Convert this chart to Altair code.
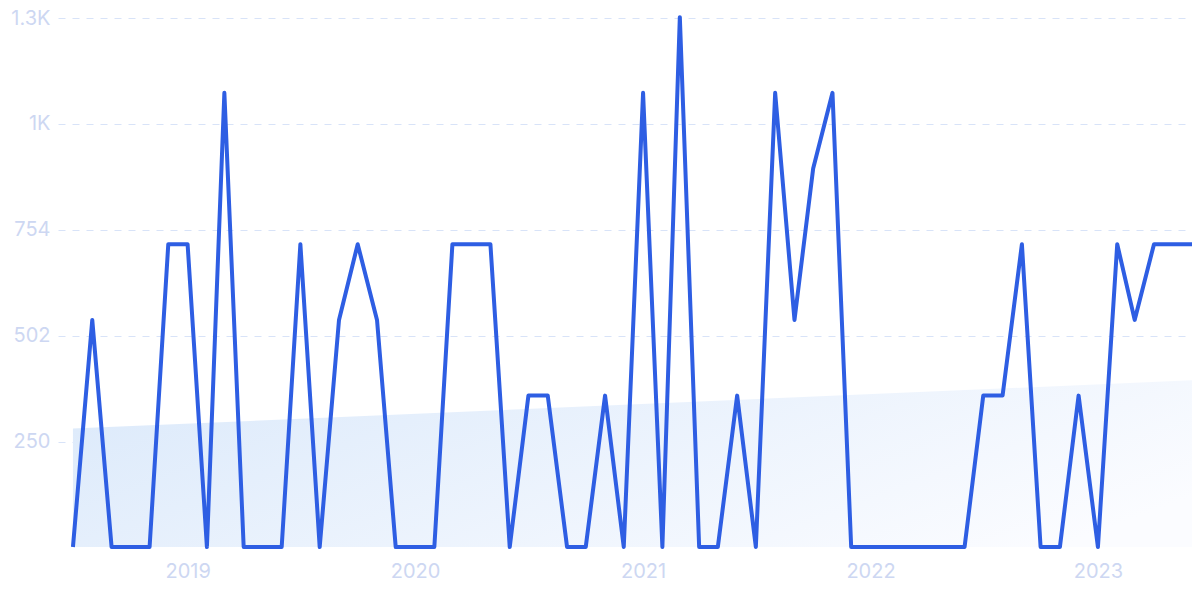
import altair as alt
import pandas as pd

months = pd.date_range("2018-07-01", "2023-06-01", freq="MS").strftime("%Y-%m-%d").tolist()
values = [0, 540, 0, 0, 0, 720, 720, 0, 1080, 0, 0, 0,
          720, 0, 540, 720, 540, 0, 0, 0, 720, 720, 720, 0,
          360, 360, 0, 0, 360, 0, 1080, 0, 1260, 0, 0, 360,
          0, 1080, 540, 900, 1080, 0, 0, 0, 0, 0, 0, 0,
          360, 360, 720, 0, 0, 360, 0, 720, 540, 720, 720, 720]
y_ticks = [250, 502, 754, 1006, 1258]
year_ticks = ["2019-01-01", "2020-01-01", "2021-01-01", "2022-01-01", "2023-01-01"]

df = pd.DataFrame({"date": months, "value": values, "idx": list(range(len(values)))})


def utc_ms(s):
    return int(pd.Timestamp(s, tz="UTC").value // 10**6)


label_color = "#cdd7f2"
x_scale = alt.Scale(domain=[utc_ms("2018-06-07"), utc_ms("2023-06-01")])
y_scale = alt.Scale(domain=[0, 1258], nice=False)

x_axis = alt.Axis(values=[utc_ms(d) for d in year_ticks], format="%Y", formatType="time",
                  grid=False, domain=False,
                  ticks=False, labelColor=label_color, labelFontSize=20,
                  labelFont="Inter", labelPadding=14)
y_axis = alt.Axis(values=y_ticks, domain=False, ticks=False,
                  grid=True, gridColor="#d8e3f8", gridDash=[7, 7], gridWidth=1,
                  labelColor=label_color, labelFontSize=20, labelFont="Inter",
                  labelPadding=8,
                  labelExpr="datum.value == 1006 ? '1K' : datum.value == 1258 ? '1.3K' : datum.label")

base = alt.Chart(df)

trend = base.transform_regression("idx", "value", method="linear").transform_calculate(
    t="utc(2018, 6 + datum.idx, 1)"
).mark_area(
    color=alt.Gradient(
        gradient="linear",
        stops=[alt.GradientStop(color="#deebfb", offset=0),
               alt.GradientStop(color="#fbfcff", offset=1)],
        x1=0, x2=1, y1=0.3, y2=0.7,
    ),
).encode(
    x=alt.X("t:T", scale=x_scale, title=None, axis=x_axis),
    y=alt.Y("value:Q", scale=y_scale, title=None, axis=y_axis),
)

line = base.mark_line(color="#2e5ee3", strokeWidth=4, strokeJoin="round").encode(
    x=alt.X("date:T", scale=x_scale, title=None, axis=x_axis),
    y=alt.Y("value:Q", scale=y_scale, title=None, axis=y_axis),
)

chart = alt.layer(trend, line).properties(
    width=1134, height=529,
    autosize=alt.AutoSizeParams(type="none"),
    padding={"left": 50, "top": 10, "right": 0, "bottom": 38},
).configure_view(stroke=None)

chart.save("out.html", embed_options={"renderer": "svg", "actions": False})
